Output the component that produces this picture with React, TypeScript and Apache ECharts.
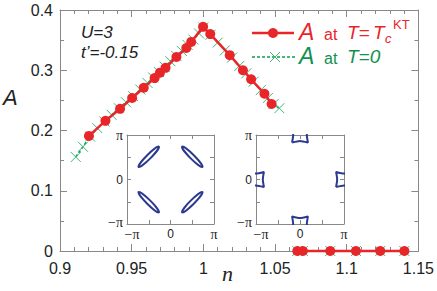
import React, { useEffect, useRef } from 'react';
import * as echarts from 'echarts';

// ---- data ----
const redN = [0.9202, 0.9317, 0.9419, 0.9503, 0.9584, 0.966, 0.9697, 0.9736, 0.9812, 0.9881, 0.9915, 0.9998, 1.0048, 1.0184, 1.0276, 1.0333, 1.0426, 1.0476];
const redA = [0.191, 0.216, 0.236, 0.254, 0.271, 0.287, 0.296, 0.304, 0.322, 0.337, 0.347, 0.372, 0.36, 0.325, 0.3, 0.285, 0.261, 0.244];
const redZeroN = [1.0655, 1.0694, 1.0885, 1.1064, 1.1234, 1.1402];
const redZeroA = [0, 0, 0, 0, 0, 0];

const greenN = [0.911, 0.916, 0.921, 0.926, 0.931, 0.936, 0.941, 0.946, 0.951, 0.956, 0.961, 0.965, 0.969, 0.973, 0.977, 0.981, 0.985, 0.989, 0.993, 0.997, 1.0, 1.005, 1.01, 1.015, 1.02, 1.025, 1.03, 1.035, 1.04, 1.045, 1.049, 1.053];
const greenA = [0.156, 0.173, 0.19, 0.204, 0.215, 0.226, 0.237, 0.247, 0.257, 0.268, 0.279, 0.288, 0.297, 0.306, 0.315, 0.324, 0.332, 0.342, 0.351, 0.361, 0.371, 0.359, 0.346, 0.333, 0.321, 0.307, 0.295, 0.281, 0.267, 0.254, 0.244, 0.237];
const greenZeroN = [1.0655, 1.0694, 1.0885, 1.1064, 1.1234, 1.1402];
const greenZeroA = [0, 0, 0, 0, 0, 0];

// inset 1: elliptic pockets (units of pi): center x, center y, semi-major, semi-minor, rotation deg
const ellCx = [-0.5, 0.5, -0.5, 0.5];
const ellCy = [0.51, 0.51, -0.51, -0.51];
const ellA = [0.33, 0.33, 0.33, 0.33];
const ellB = [0.05, 0.05, 0.05, 0.05];
const ellRot = [45, -45, -45, 45];

// inset 2: pocket outline (units of pi) and pocket centres
const pocketX = [-0.18, -0.155, -0.18, 0, 0.18, 0.155, 0.18, 0, -0.18];
const pocketY = [-0.17, 0, 0.17, 0.135, 0.17, 0, -0.17, -0.135, -0.17];
const pocketCx = [0, 0, -1, 1];
const pocketCy = [1, -1, 0, 0];

const RED = '#e8262a';
const GREEN_LINE = '#129a4e';
const GREEN_MARK = '#3dbb78';
const GREEN_TEXT = '#0f9150';
const BLUE = '#2b3990';
const AXIS = '#888';
const TXT = '#222';

const piLabelX = (v: number) => {
  if (Math.abs(v + 1) < 1e-6) return '{pl|\u2212\u03c0}';
  if (Math.abs(v) < 1e-6) return '{z|0}';
  if (Math.abs(v - 1) < 1e-6) return '{p|\u03c0}';
  return '';
};
const piLabelY = (v: number) => {
  if (Math.abs(v + 1) < 1e-6) return '{pb|\u2212\u03c0}';
  if (Math.abs(v) < 1e-6) return '{z|0}';
  if (Math.abs(v - 1) < 1e-6) return '{p|\u03c0}';
  return '';
};
const piRich = {
  p: { fontFamily: 'Liberation Serif', fontSize: 14, color: TXT, lineHeight: 10 },
  pl: { fontFamily: 'Liberation Serif', fontSize: 14, color: TXT, lineHeight: 10, padding: [0, 0, 0, 10] },
  pb: { fontFamily: 'Liberation Serif', fontSize: 14, color: TXT, lineHeight: 10, padding: [0, 0, 4, 0] },
  z: { fontFamily: 'Liberation Sans', fontSize: 12, color: TXT, lineHeight: 10 },
};

function insetAxes(gridIndex: number) {
  const common = {
    gridIndex,
    type: 'value',
    min: -1,
    max: 1,
    interval: 0.5,
    axisLine: { onZero: false, lineStyle: { color: AXIS, width: 1 } },
    axisTick: { inside: true, length: 4, lineStyle: { color: AXIS } },
    splitLine: { show: false },
  };
  return {
    x: [
      { ...common, position: 'bottom', axisLabel: { margin: 5, formatter: piLabelX, rich: piRich } },
      { ...common, position: 'top', axisLabel: { show: false } },
    ],
    y: [
      { ...common, position: 'left', axisLabel: { margin: 4, formatter: piLabelY, rich: piRich } },
      { ...common, position: 'right', axisLabel: { show: false } },
    ],
  };
}

export default function App() {
  const ref = useRef<HTMLDivElement>(null);
  useEffect(() => {
    if (!ref.current) return;
    const chart = echarts.init(ref.current, null, { renderer: 'svg' });
    const mainCommonX = {
      type: 'value',
      min: 0.9,
      max: 1.15,
      interval: 0.05,
      minorTick: { show: true, splitNumber: 5, length: 4, lineStyle: { color: AXIS } },
      axisLine: { onZero: false, lineStyle: { color: AXIS, width: 1 } },
      axisTick: { inside: true, length: 7, lineStyle: { color: AXIS } },
      splitLine: { show: false },
    };
    const mainCommonY = {
      type: 'value',
      min: 0,
      max: 0.4,
      interval: 0.1,
      minorTick: { show: true, splitNumber: 2, length: 4, lineStyle: { color: AXIS } },
      axisLine: { onZero: false, lineStyle: { color: AXIS, width: 1 } },
      axisTick: { inside: true, length: 7, lineStyle: { color: AXIS } },
      splitLine: { show: false },
    };
    const in1 = insetAxes(1);
    const in2 = insetAxes(2);
    const cross = 'path://M0,0L10,10M10,0L0,10';
    const greenStyle = {
      type: 'line',
      xAxisIndex: 0,
      yAxisIndex: 0,
      symbol: cross,
      symbolSize: 10,
      itemStyle: { color: 'none', borderColor: GREEN_MARK, borderWidth: 1 },
      lineStyle: { color: GREEN_LINE, width: 1.5, type: [3, 2] },
      clip: false,
      z: 2,
    };
    const redStyle = {
      type: 'line',
      xAxisIndex: 0,
      yAxisIndex: 0,
      symbol: 'circle',
      symbolSize: 10,
      itemStyle: { color: RED },
      lineStyle: { color: RED, width: 2.5 },
      clip: false,
      z: 3,
    };
    const pocketSeries = pocketCx.map((cx, i) => ({
      type: 'line',
      xAxisIndex: 4,
      yAxisIndex: 4,
      symbol: 'none',
      clip: true,
      smooth: 0.2,
      lineStyle: { color: BLUE, width: 2 },
      data: pocketX.map((px, j) => [cx + px, pocketCy[i] + pocketY[j]]),
    }));

    const option: any = {
      animation: false,
      grid: [
        { left: 60, right: 15, top: 10, bottom: 40 },
        { left: 127, top: 135, width: 87, height: 89 },
        { left: 256, top: 135, width: 88, height: 89 },
      ],
      xAxis: [
        { ...mainCommonX, gridIndex: 0, position: 'bottom', axisLabel: { margin: 9, fontSize: 16, color: TXT, fontFamily: 'Liberation Sans' } },
        { ...mainCommonX, gridIndex: 0, position: 'top', axisLabel: { show: false } },
        in1.x[0], in1.x[1], in2.x[0], in2.x[1],
      ],
      yAxis: [
        { ...mainCommonY, gridIndex: 0, position: 'left', axisLabel: { margin: 7, fontSize: 16, color: TXT, fontFamily: 'Liberation Sans' } },
        { ...mainCommonY, gridIndex: 0, position: 'right', axisLabel: { show: false } },
        in1.y[0], in1.y[1], in2.y[0], in2.y[1],
      ],
      series: [
        { ...greenStyle, data: greenN.map((n, i) => [n, greenA[i]]) },
        { ...greenStyle, data: greenZeroN.map((n, i) => [n, greenZeroA[i]]) },
        { ...redStyle, data: redN.map((n, i) => [n, redA[i]]) },
        { ...redStyle, data: redZeroN.map((n, i) => [n, redZeroA[i]]) },
        {
          type: 'custom',
          xAxisIndex: 2,
          yAxisIndex: 2,
          data: ellCx.map((cx, i) => [cx, ellCy[i], ellA[i], ellB[i], ellRot[i]]),
          renderItem: (params: any, api: any) => {
            const c = api.coord([api.value(0), api.value(1)]);
            const s = api.size([api.value(2), api.value(3)]);
            return {
              type: 'ellipse',
              x: c[0],
              y: c[1],
              rotation: (api.value(4) * Math.PI) / 180,
              shape: { cx: 0, cy: 0, rx: s[0], ry: s[0] * (api.value(3) / api.value(2)) },
              style: { fill: 'none', stroke: BLUE, lineWidth: 2 },
            };
          },
        },
        ...pocketSeries,
      ],
      graphic: [
        { type: 'text', left: 3, top: 86, style: { text: 'A', font: 'italic 22px Liberation Sans', fill: TXT } },
        { type: 'text', left: 222, top: 262, style: { text: 'n', font: 'italic 22px Liberation Serif', fill: TXT } },
        { type: 'text', left: 81, top: 24, style: { text: 'U=3', font: 'italic 17px Liberation Sans', fill: TXT } },
        { type: 'text', left: 81, top: 44, style: { text: "t\u2019=-0.15", font: 'italic 17px Liberation Sans', fill: TXT } },
        // legend row 1
        { type: 'line', shape: { x1: 252, y1: 33, x2: 294, y2: 33 }, style: { stroke: RED, lineWidth: 2.5 } },
        { type: 'circle', shape: { cx: 273, cy: 33, r: 5 }, style: { fill: RED } },
        { type: 'text', left: 299, top: 20, style: { text: 'A', font: 'italic 23px Liberation Sans', fill: RED } },
        { type: 'text', left: 324, top: 26, style: { text: 'at', font: '16px Liberation Sans', fill: RED } },
        { type: 'text', left: 347, top: 23, style: { text: 'T=', font: 'italic 19px Liberation Sans', fill: RED } },
        { type: 'text', left: 373, top: 23, style: { text: 'T', font: 'italic 19px Liberation Sans', fill: RED } },
        { type: 'text', left: 385, top: 32, style: { text: 'c', font: 'italic 13px Liberation Sans', fill: RED } },
        { type: 'text', left: 393, top: 18, style: { text: 'KT', font: '13px Liberation Sans', fill: RED } },
        // legend row 2
        { type: 'line', shape: { x1: 252, y1: 57, x2: 295, y2: 57 }, style: { stroke: GREEN_LINE, lineWidth: 1.5, lineDash: [3, 2] } },
        { type: 'line', shape: { x1: 270, y1: 52, x2: 280, y2: 62 }, style: { stroke: GREEN_MARK, lineWidth: 1 } },
        { type: 'line', shape: { x1: 280, y1: 52, x2: 270, y2: 62 }, style: { stroke: GREEN_MARK, lineWidth: 1 } },
        { type: 'text', left: 299, top: 44, style: { text: 'A', font: 'italic 23px Liberation Sans', fill: GREEN_TEXT } },
        { type: 'text', left: 324, top: 50, style: { text: 'at', font: '16px Liberation Sans', fill: GREEN_TEXT } },
        { type: 'text', left: 347, top: 47, style: { text: 'T=0', font: 'italic 19px Liberation Sans', fill: GREEN_TEXT } },
      ],
    };
    chart.setOption(option);
    return () => chart.dispose();
  }, []);
  return <div ref={ref} style={{ width: 437, height: 291, position: 'absolute', left: 0, top: 0 }} />;
}
